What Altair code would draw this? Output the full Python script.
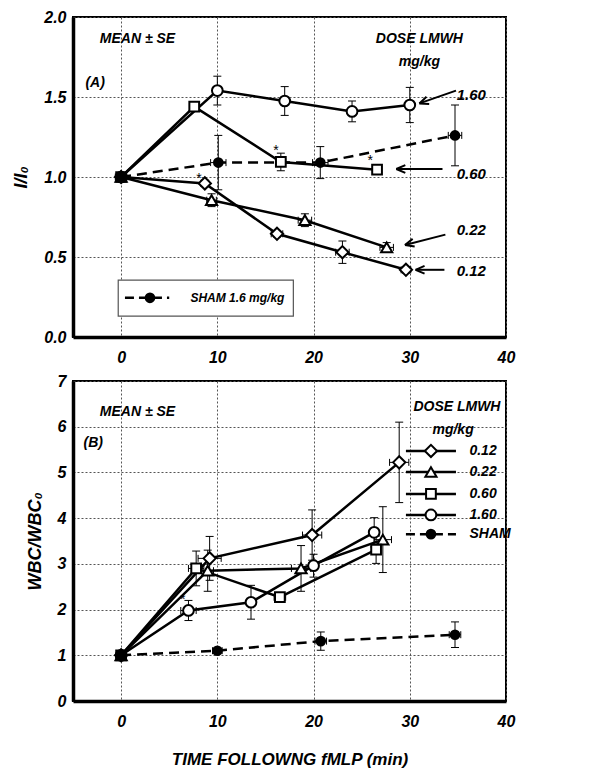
import altair as alt
import pandas as pd

FONT = "Liberation Sans"

# ---------------- Panel A : I/I0 ----------------
A_012_t = [0, 8.7, 16.2, 23.0, 29.6]
A_012_v = [1.0, 0.96, 0.645, 0.53, 0.42]
A_012_se = [0.0, 0.02, 0.02, 0.07, 0.02]
A_012_set = [0.0, 0.4, 0.6, 0.7, 0.5]

A_022_t = [0, 9.4, 19.1, 27.6]
A_022_v = [1.0, 0.855, 0.73, 0.56]
A_022_se = [0.0, 0.04, 0.04, 0.03]
A_022_set = [0.0, 0.5, 0.7, 0.7]

A_060_t = [0, 7.6, 16.6, 26.6]
A_060_v = [1.0, 1.44, 1.094, 1.046]
A_060_se = [0.0, 0.03, 0.055, 0.03]
A_060_set = [0.0, 0.3, 0.5, 0.3]

A_160_t = [0, 10.0, 17.0, 24.0, 30.0]
A_160_v = [1.0, 1.54, 1.475, 1.41, 1.45]
A_160_se = [0.0, 0.09, 0.09, 0.065, 0.11]
A_160_set = [0.0, 0.0, 0.0, 0.0, 0.0]

A_sham_t = [0, 10.1, 20.7, 34.7]
A_sham_v = [1.0, 1.09, 1.09, 1.26]
A_sham_se = [0.0, 0.17, 0.10, 0.19]
A_sham_set = [0.6, 0.8, 0.8, 0.7]

# ---------------- Panel B : WBC/WBC0 ----------------
B_012_t = [0, 9.2, 19.85, 28.9]
B_012_v = [1.0, 3.12, 3.63, 5.22]
B_012_se = [0.05, 0.48, 0.55, 0.88]
B_012_set = [0.0, 1.2, 1.0, 1.0]

B_022_t = [0, 9.0, 18.7, 27.2]
B_022_v = [1.0, 2.85, 2.9, 3.53]
B_022_se = [0.05, 0.45, 0.5, 0.72]
B_022_set = [0.0, 0.6, 1.0, 0.9]

B_060_t = [0, 7.8, 16.5, 26.5]
B_060_v = [1.0, 2.9, 2.27, 3.31]
B_060_se = [0.05, 0.38, 0.1, 0.3]
B_060_set = [0.0, 0.8, 0.6, 0.3]

B_160_t = [0, 7.0, 13.5, 20.0, 26.3]
B_160_v = [1.0, 1.98, 2.16, 2.96, 3.69]
B_160_se = [0.05, 0.22, 0.37, 0.25, 0.32]
B_160_set = [0.0, 0.8, 0.4, 0.5, 0.3]

B_sham_t = [0, 10.0, 20.75, 34.7]
B_sham_v = [1.0, 1.1, 1.31, 1.45]
B_sham_se = [0.05, 0.05, 0.2, 0.28]
B_sham_set = [0.4, 0.5, 0.6, 0.6]

SERIES = ["0.12", "0.22", "0.60", "1.60", "SHAM"]
SHAPES = ["diamond", "triangle-up", "square", "circle", "circle"]
FILLS = ["white", "white", "white", "white", "black"]
SIZES = [150, 125, 95, 115, 75]

# annotation texts (label, time, value)
A_TEXT = [("MEAN ± SE", 1.7, 1.86), ("DOSE LMWH", 31.0, 1.86), ("mg/kg", 31.0, 1.72),
          ("(A)", -2.7, 1.59)]
A_DOSE_LABELS = [("1.60", 36.4, 1.51), ("0.60", 36.4, 1.02), ("0.22", 36.4, 0.67), ("0.12", 36.4, 0.41)]
A_ARROWS = [(34.8, 1.54, 31.0, 1.46), (33.4, 1.05, 28.6, 1.05),
            (33.7, 0.64, 29.5, 0.575), (33.6, 0.42, 30.6, 0.42)]
A_STARS = [(8.1, 0.99), (16.1, 1.16), (25.9, 1.10)]
A_BOX = (-0.3, 17.9, 0.13, 0.356)
A_BOX_LINE = (0.4, 5.0, 0.245, 3.0)
A_BOX_TEXT = ("SHAM 1.6 mg/kg", 7.2, 0.245)

B_TEXT = [("MEAN ± SE", 1.7, 6.32), ("DOSE LMWH", 34.9, 6.43), ("mg/kg", 34.5, 5.93),
          ("(B)", -2.9, 5.65)]
B_LEGEND_V = [5.47, 5.01, 4.53, 4.07, 3.65]
B_LEGEND_T = (29.6, 34.8, 32.2, 36.2)
B_STARS = [(6.4, 2.2)]


def make_df(rows):
    recs = []
    for name, t, v, se, st in rows:
        for i in range(len(t)):
            recs.append(dict(series=name, t=t[i], v=v[i], lo=v[i] - se[i], hi=v[i] + se[i],
                             se=se[i], tlo=t[i] - st[i], thi=t[i] + st[i], st=st[i], o=i))
    return pd.DataFrame(recs)


dfA = make_df([("0.12", A_012_t, A_012_v, A_012_se, A_012_set),
               ("0.22", A_022_t, A_022_v, A_022_se, A_022_set),
               ("0.60", A_060_t, A_060_v, A_060_se, A_060_set),
               ("1.60", A_160_t, A_160_v, A_160_se, A_160_set),
               ("SHAM", A_sham_t, A_sham_v, A_sham_se, A_sham_set)])
dfB = make_df([("0.12", B_012_t, B_012_v, B_012_se, B_012_set),
               ("0.22", B_022_t, B_022_v, B_022_se, B_022_set),
               ("0.60", B_060_t, B_060_v, B_060_se, B_060_set),
               ("1.60", B_160_t, B_160_v, B_160_se, B_160_set),
               ("SHAM", B_sham_t, B_sham_v, B_sham_se, B_sham_set)])

W, H = 433, 320
TXT = dict(font=FONT, fontWeight="bold", fontStyle="italic", color="black")


def panel(df, ydom, yvals, yfmt, ytitle, xtitle, texts, dose_labels, arrows, stars,
          box=None, legend=False):
    xs = alt.Scale(domain=[-5, 40], nice=False, zero=False)
    ys = alt.Scale(domain=ydom, nice=False, zero=False)
    xax = alt.Axis(values=[0, 10, 20, 30, 40], grid=True, gridColor="#555", gridDash=[2, 2],
                   gridWidth=1, ticks=False, domain=True, domainColor="black", domainWidth=3.5,
                   labelFlush=False,
                   labelPadding=12, labelFontSize=16, labelFont=FONT, labelFontWeight="bold",
                   labelFontStyle="italic", labelColor="black",
                   titleFont=FONT, titleFontSize=17, titleFontWeight="bold", titleFontStyle="italic",
                   titlePadding=22, titleColor="black")
    yax = alt.Axis(values=yvals, format=yfmt, grid=True, gridColor="#555", gridDash=[2, 2],
                   gridWidth=1, ticks=False, domain=True, domainColor="black", domainWidth=3.5,
                   labelFlush=False,
                   labelPadding=7, labelFontSize=16, labelFont=FONT, labelFontWeight="bold",
                   labelFontStyle="italic", labelColor="black",
                   titleFont=FONT, titleFontSize=18, titleFontWeight="bold", titleFontStyle="italic",
                   titlePadding=13, titleColor="black")

    def X(f):
        return alt.X(f"{f}:Q", scale=xs, axis=xax, title=xtitle)

    def Y(f):
        return alt.Y(f"{f}:Q", scale=ys, axis=yax, title=ytitle)

    layers = []
    base = alt.Chart(df)

    if box is not None:
        bdf = pd.DataFrame([dict(t1=box[0], t2=box[1], v1=box[2], v2=box[3])])
        layers.append(alt.Chart(bdf).mark_rect(fill="white", stroke="#555", strokeWidth=1.2)
                      .encode(x=X("t1"), x2="t2", y=Y("v1"), y2="v2"))
        ldf = pd.DataFrame([dict(t1=A_BOX_LINE[0], t2=A_BOX_LINE[1], v=A_BOX_LINE[2],
                                 tm=A_BOX_LINE[3], label=A_BOX_TEXT[0], tt=A_BOX_TEXT[1])])
        layers.append(alt.Chart(ldf).mark_rule(color="black", strokeWidth=2.5, strokeDash=[9, 5])
                      .encode(x=X("t1"), x2="t2", y=Y("v")))
        layers.append(alt.Chart(ldf).mark_point(shape="circle", filled=True, fill="black",
                                                stroke="black", strokeWidth=2, size=75, opacity=1)
                      .encode(x=X("tm"), y=Y("v")))
        layers.append(alt.Chart(ldf).mark_text(align="left", baseline="middle", fontSize=12, **TXT)
                      .encode(x=X("tt"), y=Y("v"), text="label:N"))

    # vertical error bars
    ve = base.transform_filter("datum.se > 0.001")
    layers.append(ve.mark_rule(color="black", strokeWidth=1).encode(x=X("t"), y=Y("lo"), y2="hi"))
    for f in ["lo", "hi"]:
        layers.append(ve.mark_point(shape="M-1,0L1,0", size=64, stroke="black", strokeWidth=1,
                                    filled=False, opacity=1).encode(x=X("t"), y=Y(f)))
    # horizontal error bars
    he = base.transform_filter("datum.st > 0.001")
    layers.append(he.mark_rule(color="black", strokeWidth=1).encode(x=X("tlo"), x2="thi", y=Y("v")))
    for f in ["tlo", "thi"]:
        layers.append(he.mark_point(shape="M0,-1L0,1", size=49, stroke="black", strokeWidth=1,
                                    filled=False, opacity=1).encode(x=X(f), y=Y("v")))

    # lines
    layers.append(base.transform_filter("datum.series != 'SHAM'")
                  .mark_line(color="black", strokeWidth=2.5)
                  .encode(x=X("t"), y=Y("v"), detail="series:N", order="o:Q"))
    layers.append(base.transform_filter("datum.series == 'SHAM'")
                  .mark_line(color="black", strokeWidth=2.5, strokeDash=[10, 6])
                  .encode(x=X("t"), y=Y("v"), detail="series:N", order="o:Q"))

    # markers, one layer per series with fixed size
    for s, shp, fl, sz in zip(SERIES, SHAPES, FILLS, SIZES):
        layers.append(base.transform_filter(f"datum.series == '{s}'")
                      .mark_point(shape=shp, filled=True, fill=fl, stroke="black", strokeWidth=2,
                                  size=sz, opacity=1)
                      .encode(x=X("t"), y=Y("v")))

    # texts
    tdf = pd.DataFrame([dict(label=a, t=b, v=c) for a, b, c in texts])
    layers.append(alt.Chart(tdf).mark_text(align="center", baseline="middle", fontSize=14, **TXT)
                  .encode(x=X("t"), y=Y("v"), text="label:N"))
    if dose_labels:
        ddf = pd.DataFrame([dict(label=a, t=b, v=c) for a, b, c in dose_labels])
        layers.append(alt.Chart(ddf).mark_text(align="center", baseline="middle", fontSize=15, **TXT)
                      .encode(x=X("t"), y=Y("v"), text="label:N"))
    if arrows:
        adf = pd.DataFrame([dict(t1=a, v1=b, t2=c, v2=d) for a, b, c, d in arrows])
        layers.append(alt.Chart(adf).mark_rule(color="black", strokeWidth=2)
                      .encode(x=X("t1"), x2="t2", y=Y("v1"), y2="v2"))
        adf["ang"] = [340, 0, 345, 0]
        layers.append(alt.Chart(adf).mark_point(shape="M0,0L3,-1.3M0,0L3,1.3", size=36,
                                                stroke="black", strokeWidth=2, filled=False,
                                                opacity=1)
                      .encode(x=X("t2"), y=Y("v2"), angle=alt.Angle("ang:Q", scale=None)))
    sdf = pd.DataFrame([dict(t=a, v=b, label="*") for a, b in stars])
    layers.append(alt.Chart(sdf).mark_text(align="center", baseline="middle", fontSize=14,
                                           font=FONT, color="black")
                  .encode(x=X("t"), y=Y("v"), text="label:N"))

    if legend:
        t1, t2, tm, tt = B_LEGEND_T
        lg = pd.DataFrame([dict(series=s, v=v, t1=t1, t2=t2, tm=tm, tt=tt)
                           for s, v in zip(SERIES, B_LEGEND_V)])
        layers.append(alt.Chart(lg).transform_filter("datum.series != 'SHAM'")
                      .mark_rule(color="black", strokeWidth=2.5)
                      .encode(x=X("t1"), x2="t2", y=Y("v")))
        layers.append(alt.Chart(lg).transform_filter("datum.series == 'SHAM'")
                      .mark_rule(color="black", strokeWidth=2.5, strokeDash=[9, 5])
                      .encode(x=X("t1"), x2="t2", y=Y("v")))
        for s, shp, fl, sz in zip(SERIES, SHAPES, FILLS, SIZES):
            layers.append(alt.Chart(lg).transform_filter(f"datum.series == '{s}'")
                          .mark_point(shape=shp, filled=True, fill=fl, stroke="black",
                                      strokeWidth=2, size=sz, opacity=1)
                          .encode(x=X("tm"), y=Y("v")))
        layers.append(alt.Chart(lg).mark_text(align="left", baseline="middle", fontSize=14, **TXT)
                      .encode(x=X("tt"), y=Y("v"), text="series:N"))

    return alt.layer(*layers).properties(width=W, height=H)


pA = panel(dfA, [0, 2], [0, 0.5, 1.0, 1.5, 2.0], ".1f", "I/I₀", None,
           A_TEXT, A_DOSE_LABELS, A_ARROWS, A_STARS, box=A_BOX)
pB = panel(dfB, [0, 7], [0, 1, 2, 3, 4, 5, 6, 7], "d", "WBC/WBC₀", "TIME FOLLOWNG fMLP (min)",
           B_TEXT, None, None, B_STARS, legend=True)

chart = (alt.vconcat(pA, pB, spacing=6)
         .properties(padding={"left": 3, "top": 0, "right": 5, "bottom": 5})
         .configure_view(stroke="black", strokeWidth=2))

chart.save("out.html", embed_options={"renderer": "svg", "actions": False})
